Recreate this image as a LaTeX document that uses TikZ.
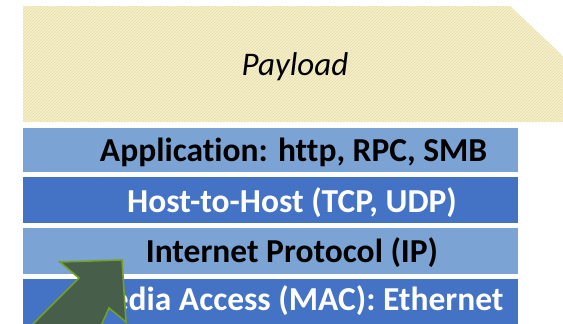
\documentclass[tikz,border=0pt]{standalone}
\usepackage{fontspec}
\setmainfont{Carlito}[Ligatures={NoCommon,TeX}]
\usetikzlibrary{patterns}
\definecolor{lightband}{HTML}{7BA3D4}
\definecolor{darkband}{HTML}{4472C4}
\definecolor{payfill}{HTML}{F6F0CC}
\definecolor{payline}{HTML}{E6DCA6}
\definecolor{arrowfill}{HTML}{475E4A}
\definecolor{arrowline}{HTML}{74A02A}
\tikzset{
  band/.style={rectangle, inner sep=0pt, minimum width=495pt, anchor=north west},
  lightlayer/.style={band, fill=lightband},
  darklayer/.style={band, fill=darkband},
  layertext/.style={anchor=base, inner sep=0pt, font=\fontsize{33.5}{33.5}\selectfont\bfseries},
}
\begin{document}
\begin{tikzpicture}[x=1pt,y=-1pt]
\useasboundingbox (0,0) rectangle (563,324);
\fill[white] (0,0) rectangle (563,324);
% payload
\fill[payfill] (23,6) -- (510,6) -- (563,56) -- (563,122) -- (23,122) -- cycle;
\begin{scope}
\clip (23,6) -- (510,6) -- (563,56) -- (563,122) -- (23,122) -- cycle;
\foreach \i in {-140,-137,...,570} {
  \draw[payline, line width=0.6pt] (\i,122) -- ++(130,-130);
}
\end{scope}
\node[anchor=base, inner sep=0pt, font=\fontsize{33}{33}\selectfont\itshape] (payload) at (295,75) {Payload};
% layers
\node[lightlayer, minimum height=44pt] (app) at (23,128) {};
\node[darklayer, minimum height=46pt] (host) at (23,177) {};
\node[lightlayer, minimum height=46pt] (ip) at (23,228) {};
\node[darklayer, minimum height=50pt] (mac) at (23,279) {};
\node[layertext, text=black] (apptext) at (293.5,161) {Application: http, RPC, SMB};
\node[layertext, text=white] (hosttext) at (292,212) {Host-to-Host (TCP, UDP)};
\node[layertext, text=black] (iptext) at (292,262) {Internet Protocol (IP)};
\node[layertext, text=white] (mactext) at (293,310) {Media Access (MAC): Ethernet};
% arrow
\begin{scope}
\clip (0,0) rectangle (563,324);
\draw[fill=arrowfill, draw=arrowline, line width=1.6pt, line join=miter]
  (122,260) -- (60,262) -- (79,278) -- (20,337) -- (96,337) -- (109,308) -- (126,322) -- cycle;
\end{scope}
\end{tikzpicture}
\end{document}
